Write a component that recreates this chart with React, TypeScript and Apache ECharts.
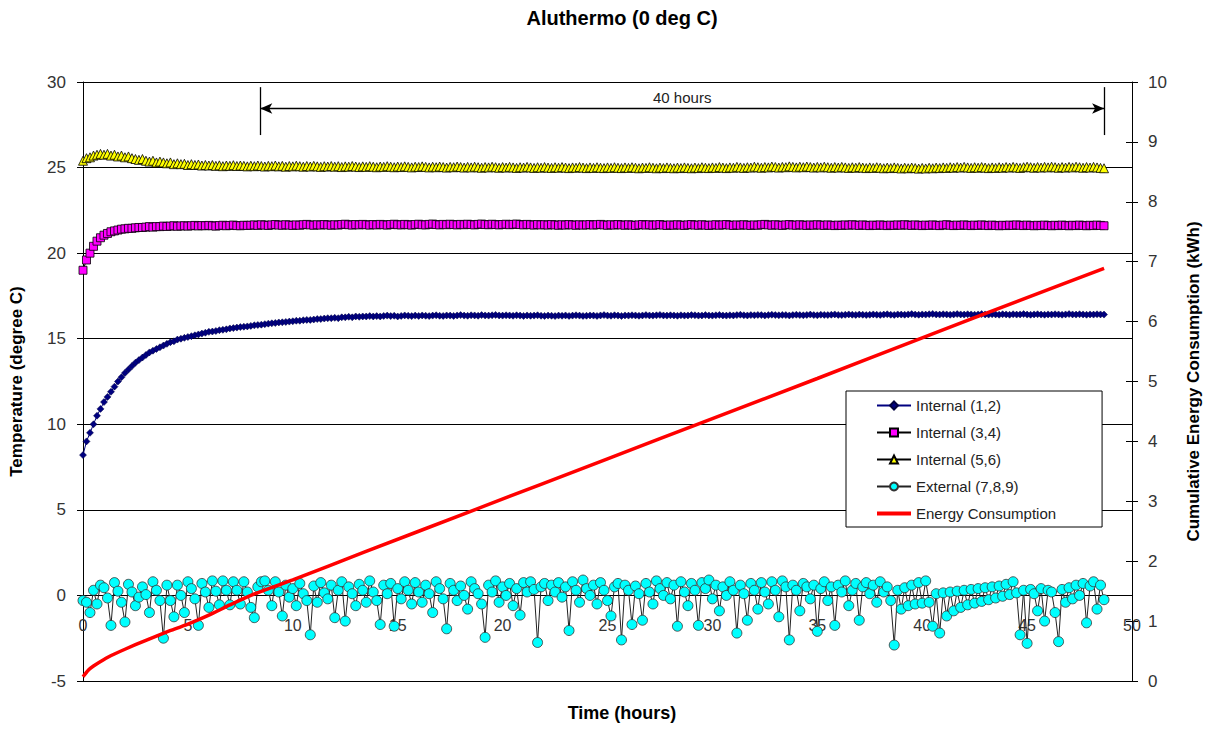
import React, { useEffect, useRef } from "react";
import * as echarts from "echarts";

const TITLE = "Aluthermo (0 deg C)";
const X_NAME = "Time (hours)";
const Y_LEFT_NAME = "Temperature (degree C)";
const Y_RIGHT_NAME = "Cumulative Energy Consumption (kWh)";
const SPAN_LABEL = "40 hours";
const SPAN_START_H = 8.45;
const SPAN_END_H = 48.67;

const NAMES = ["Internal (1,2)", "Internal (3,4)", "Internal (5,6)", "External (7,8,9)", "Energy Consumption"];

// readings every 10 minutes
const TIME_STEP_H = 1 / 6;

const INTERNAL_12 = [
  8.2, 9.0, 9.5, 10.0, 10.5, 10.9, 11.3, 11.6, 11.9, 12.2, 12.5, 12.75,
  13.0, 13.2, 13.4, 13.6, 13.75, 13.9, 14.05, 14.2, 14.3, 14.4, 14.5, 14.6,
  14.7, 14.8, 14.85, 14.95, 15.0, 15.05, 15.1, 15.15, 15.2, 15.25, 15.3, 15.35,
  15.4, 15.42, 15.45, 15.5, 15.52, 15.55, 15.6, 15.62, 15.65, 15.68, 15.7, 15.72,
  15.75, 15.78, 15.8, 15.82, 15.85, 15.88, 15.9, 15.92, 15.95, 15.96, 15.98, 16.0,
  16.02, 16.05, 16.05, 16.08, 16.1, 16.1, 16.12, 16.15, 16.15, 16.18, 16.2, 16.2,
  16.22, 16.2, 16.25, 16.25, 16.28, 16.25, 16.3, 16.28, 16.3, 16.3, 16.32, 16.3,
  16.32, 16.3, 16.33, 16.35, 16.32, 16.34, 16.3, 16.33, 16.36, 16.34, 16.32, 16.35,
  16.33, 16.36, 16.34, 16.32, 16.35, 16.37, 16.34, 16.33, 16.36, 16.35, 16.33, 16.36,
  16.38, 16.35, 16.34, 16.37, 16.36, 16.34, 16.38, 16.36, 16.35, 16.37, 16.39, 16.36,
  16.35, 16.37, 16.36, 16.34, 16.37, 16.35, 16.33, 16.36, 16.34, 16.35, 16.37, 16.34,
  16.33, 16.35, 16.34, 16.32, 16.35, 16.34, 16.36, 16.33, 16.35, 16.37, 16.35, 16.33,
  16.34, 16.36, 16.35, 16.33, 16.36, 16.38, 16.35, 16.34, 16.37, 16.35, 16.33, 16.36,
  16.35, 16.37, 16.36, 16.34, 16.36, 16.38, 16.36, 16.35, 16.37, 16.39, 16.36, 16.35,
  16.37, 16.36, 16.34, 16.37, 16.35, 16.36, 16.38, 16.37, 16.35, 16.36, 16.38, 16.36,
  16.35, 16.37, 16.39, 16.36, 16.35, 16.37, 16.36, 16.38, 16.4, 16.37, 16.36, 16.38,
  16.37, 16.39, 16.38, 16.36, 16.38, 16.4, 16.38, 16.37, 16.39, 16.38, 16.36, 16.38,
  16.4, 16.38, 16.37, 16.39, 16.41, 16.38, 16.37, 16.4, 16.39, 16.38, 16.4, 16.42,
  16.39, 16.38, 16.4, 16.42, 16.4, 16.39, 16.41, 16.4, 16.38, 16.4, 16.42, 16.4,
  16.39, 16.41, 16.43, 16.4, 16.39, 16.42, 16.41, 16.4, 16.42, 16.44, 16.41, 16.4,
  16.42, 16.41, 16.43, 16.45, 16.42, 16.41, 16.43, 16.42, 16.4, 16.42, 16.44, 16.42,
  16.41, 16.43, 16.42, 16.4, 16.42, 16.44, 16.42, 16.41, 16.43, 16.42, 16.4, 16.43,
  16.42, 16.4, 16.43, 16.41, 16.42, 16.44, 16.41, 16.4, 16.42, 16.43, 16.41, 16.4,
  16.42, 16.41, 16.43, 16.42, 16.4, 16.42, 16.44, 16.42, 16.41, 16.43, 16.42, 16.4,
  16.42, 16.41, 16.43, 16.42, 16.41,
];

const INTERNAL_34 = [
  19.0, 19.6, 20.0, 20.4, 20.7, 20.9, 21.05, 21.15, 21.25, 21.3, 21.35, 21.4,
  21.42, 21.45, 21.45, 21.48, 21.5, 21.5, 21.52, 21.55, 21.52, 21.55, 21.55, 21.58,
  21.56, 21.58, 21.6, 21.57, 21.59, 21.6, 21.58, 21.6, 21.62, 21.59, 21.61, 21.6,
  21.62, 21.6, 21.58, 21.61, 21.63, 21.6, 21.62, 21.64, 21.61, 21.6, 21.63, 21.62,
  21.63, 21.65, 21.62, 21.66, 21.64, 21.62, 21.65, 21.67, 21.64, 21.63, 21.66, 21.64,
  21.62, 21.65, 21.63, 21.66, 21.68, 21.65, 21.63, 21.66, 21.64, 21.67, 21.65, 21.63,
  21.66, 21.64, 21.67, 21.69, 21.66, 21.64, 21.67, 21.65, 21.68, 21.66, 21.64, 21.67,
  21.65, 21.68, 21.66, 21.64, 21.67, 21.69, 21.66, 21.65, 21.68, 21.66, 21.64, 21.67,
  21.69, 21.66, 21.65, 21.68, 21.7, 21.67, 21.65, 21.68, 21.66, 21.69, 21.67, 21.65,
  21.68, 21.66, 21.69, 21.67, 21.65, 21.68, 21.7, 21.67, 21.66, 21.69, 21.67, 21.65,
  21.67, 21.69, 21.66, 21.68, 21.7, 21.67, 21.65, 21.68, 21.66, 21.64, 21.67, 21.65,
  21.66, 21.64, 21.67, 21.65, 21.63, 21.66, 21.64, 21.67, 21.65, 21.63, 21.66, 21.64,
  21.65, 21.67, 21.64, 21.66, 21.68, 21.65, 21.63, 21.66, 21.64, 21.67, 21.65, 21.63,
  21.66, 21.64, 21.62, 21.65, 21.67, 21.64, 21.66, 21.63, 21.65, 21.67, 21.64, 21.62,
  21.65, 21.63, 21.66, 21.64, 21.62, 21.65, 21.67, 21.64, 21.63, 21.66, 21.64, 21.62,
  21.64, 21.66, 21.63, 21.65, 21.67, 21.64, 21.62, 21.65, 21.63, 21.66, 21.64, 21.62,
  21.65, 21.63, 21.66, 21.68, 21.65, 21.63, 21.66, 21.64, 21.62, 21.65, 21.67, 21.64,
  21.63, 21.66, 21.64, 21.62, 21.65, 21.63, 21.66, 21.64, 21.62, 21.65, 21.63, 21.61,
  21.64, 21.62, 21.65, 21.63, 21.66, 21.64, 21.62, 21.65, 21.63, 21.61, 21.64, 21.62,
  21.65, 21.63, 21.61, 21.64, 21.62, 21.65, 21.63, 21.66, 21.64, 21.62, 21.65, 21.63,
  21.61, 21.64, 21.62, 21.65, 21.63, 21.61, 21.64, 21.66, 21.63, 21.61, 21.64, 21.62,
  21.65, 21.63, 21.61, 21.64, 21.62, 21.65, 21.63, 21.61, 21.64, 21.62, 21.6, 21.63,
  21.61, 21.64, 21.62, 21.65, 21.63, 21.61, 21.64, 21.62, 21.6, 21.63, 21.61, 21.64,
  21.62, 21.6, 21.63, 21.61, 21.64, 21.62, 21.6, 21.63, 21.61, 21.64, 21.62, 21.6,
  21.63, 21.61, 21.64, 21.62, 21.6,
];

const INTERNAL_56 = [
  25.4, 25.55, 25.6, 25.7, 25.75, 25.8, 25.75, 25.8, 25.7, 25.75, 25.65, 25.7,
  25.6, 25.65, 25.55, 25.5, 25.45, 25.5, 25.4, 25.35, 25.4, 25.3, 25.35, 25.3,
  25.25, 25.3, 25.2, 25.25, 25.2, 25.22, 25.15, 25.2, 25.15, 25.18, 25.12, 25.15,
  25.12, 25.15, 25.1, 25.13, 25.08, 25.12, 25.1, 25.14, 25.09, 25.12, 25.1, 25.07,
  25.11, 25.08, 25.12, 25.09, 25.06, 25.1, 25.08, 25.12, 25.07, 25.1, 25.05, 25.09,
  25.07, 25.11, 25.08, 25.05, 25.09, 25.06, 25.1, 25.07, 25.04, 25.08, 25.06, 25.09,
  25.05, 25.08, 25.03, 25.07, 25.05, 25.09, 25.06, 25.03, 25.07, 25.04, 25.08, 25.05,
  25.02, 25.06, 25.04, 25.08, 25.05, 25.02, 25.06, 25.03, 25.07, 25.04, 25.01, 25.05,
  25.03, 25.07, 25.04, 25.01, 25.05, 25.02, 25.06, 25.03, 25.0, 25.04, 25.02, 25.06,
  25.03, 25.0, 25.04, 25.01, 25.05, 25.02, 24.99, 25.03, 25.01, 25.05, 25.02, 24.99,
  25.03, 25.0, 25.04, 25.01, 24.98, 25.02, 25.0, 25.04, 25.01, 24.98, 25.02, 24.99,
  25.03, 25.0, 24.98, 25.02, 24.99, 25.03, 25.0, 24.97, 25.01, 24.99, 25.03, 25.0,
  24.97, 25.01, 24.98, 25.02, 24.99, 24.97, 25.01, 24.98, 25.02, 24.99, 24.97, 25.01,
  24.98, 25.02, 24.99, 24.96, 25.0, 24.98, 25.02, 24.99, 24.96, 25.0, 24.97, 25.01,
  24.98, 24.96, 25.0, 24.97, 25.01, 24.98, 24.96, 25.0, 24.97, 25.02, 24.99, 24.97,
  25.01, 24.98, 25.03, 25.0, 24.97, 25.01, 24.99, 25.04, 25.01, 24.98, 25.02, 25.0,
  25.05, 25.02, 24.99, 25.03, 25.01, 25.06, 25.03, 25.0, 25.04, 25.02, 25.07, 25.04,
  25.01, 25.05, 25.02, 25.06, 25.03, 25.0, 25.04, 25.01, 25.05, 25.02, 24.99, 25.03,
  25.0, 25.04, 25.01, 24.98, 25.02, 24.99, 25.03, 25.0, 24.97, 25.01, 24.98, 25.02,
  24.99, 24.96, 25.0, 24.97, 25.01, 24.98, 24.95, 24.99, 24.96, 25.0, 24.97, 24.94,
  24.98, 24.95, 24.99, 24.96, 25.0, 24.97, 25.01, 24.98, 25.02, 24.99, 25.03, 25.0,
  25.04, 25.01, 24.98, 25.02, 24.99, 25.03, 25.0, 24.97, 25.01, 24.98, 25.02, 24.99,
  25.03, 25.0, 25.04, 25.01, 24.98, 25.02, 25.05, 25.02, 24.99, 25.03, 25.0, 25.04,
  25.01, 25.05, 25.02, 24.99, 25.03, 25.0, 25.04, 25.01, 25.05, 25.02, 24.99, 25.03,
  25.0, 25.04, 25.01, 24.98, 24.96,
];

const EXTERNAL_789 = [
  -0.3, -0.4, -1.0, 0.3, -0.5, 0.6, 0.45, -0.15, -1.75, 0.75, 0.25, -0.4,
  -1.55, 0.65, 0.2, -0.6, -0.1, 0.5, 0.05, -1.0, 0.8, 0.3, -0.3, -2.5,
  0.6, -0.3, -1.25, 0.6, 0.0, -1.0, 0.8, 0.4, -0.2, -1.75, 0.7, 0.2,
  -0.7, 0.85, 0.25, -0.55, 0.85, 0.3, -0.55, 0.8, 0.3, -0.5, 0.8, 0.2,
  -0.7, -1.3, 0.5, 0.8, 0.85, 0.3, -0.6, 0.8, 0.2, -1.2, 0.6, -0.1,
  0.4, -0.6, 0.7, 0.1, -0.3, -2.3, 0.55, -0.4, 0.75, 0.15, -0.2, 0.6,
  -1.3, 0.3, 0.8, -1.5, 0.5, 0.1, -0.6, 0.65, 0.3, -0.4, 0.85, 0.2,
  -0.3, -1.7, 0.6, 0.1, 0.7, -1.8, 0.4, -0.2, 0.8, 0.3, -0.5, 0.75,
  0.2, -0.4, 0.6, 0.1, -1.0, 0.8, 0.4, -0.2, -1.95, 0.7, 0.3, -0.3,
  0.55, 0.0, -0.8, 0.8, 0.4, 0.1, -0.5, -2.45, 0.6, 0.2, 0.85, -0.4,
  0.5, 0.0, 0.7, -0.6, 0.4, -1.15, 0.75, 0.2, 0.8, 0.35, -2.75, 0.5,
  0.7, -0.3, 0.6, 0.2, 0.75, -0.1, 0.5, -2.05, 0.8, 0.3, -0.4, 0.9,
  0.4, 0.0, 0.6, -0.5, 0.75, 0.3, -0.3, -1.2, 0.5, 0.7, -2.6, 0.6,
  0.3, -1.7, 0.55, 0.1, -1.45, 0.7, 0.2, -0.5, 0.85, 0.4, 0.0, 0.75,
  -0.2, 0.6, -1.8, 0.8, 0.2, -0.6, 0.7, 0.3, -1.75, 0.75, 0.4, 0.9,
  -0.2, 0.6, -0.9, 0.5, 0.0, 0.8, 0.3, -2.2, 0.6, 0.1, -1.45, 0.7,
  0.3, -0.8, 0.75, 0.2, -0.5, 0.8, 0.3, -1.25, 0.85, 0.5, -2.6, 0.6,
  0.3, -0.9, 0.7, 0.5, -0.2, 0.6, -2.1, 0.4, 0.8, -0.3, 0.5, -1.75,
  0.6, 0.2, 0.85, -0.6, 0.3, 0.7, -1.45, 0.5, 0.75, 0.1, 0.6, -0.4,
  0.8, 0.2, 0.5, -0.3, -2.9, 0.3, -0.8, 0.45, -0.6, 0.6, -0.5, 0.75,
  -0.45, 0.85, -0.4, -1.8, 0.1, -2.2, 0.15, -1.2, 0.2, -0.9, 0.25, -0.7,
  0.3, -0.55, 0.35, -0.45, 0.4, -0.35, 0.45, -0.25, 0.5, -0.15, 0.55, -0.05,
  0.65, 0.05, 0.8, 0.15, -2.3, 0.3, -2.8, 0.35, 0.1, -0.9, 0.4, -1.5,
  0.3, 0.2, -1.0, -2.7, 0.35, -0.4, 0.45, -0.2, 0.6, 0.0, 0.7, -1.6,
  0.55, 0.8, -0.8, 0.6, -0.25,
];

const ENERGY_TIME_H = [0, 0.25, 0.5, 1, 1.5, 2, 3, 4, 5, 6, 7, 8, 10, 13.4, 18.6, 25, 30, 35, 40, 45, 48.67];
const ENERGY_KWH = [0.07, 0.18, 0.25, 0.36, 0.45, 0.53, 0.68, 0.82, 0.95, 1.1, 1.27, 1.43, 1.69, 2.15, 2.85, 3.71, 4.38, 5.05, 5.73, 6.4, 6.89];

const FONT = "'Liberation Sans', Arial, Helvetica, sans-serif";

const withTime = (vals: number[]) => vals.map((v, i) => [i * TIME_STEP_H, v]);

export default function App() {
  const ref = useRef<HTMLDivElement>(null);

  useEffect(() => {
    document.body.style.margin = "0";
    if (!ref.current) return;
    const chart = echarts.init(ref.current, undefined, { renderer: "svg" });

    const tempSeries = (name: string, vals: number[], symbol: string, size: number, fill: string) => ({
      name,
      type: "line",
      data: withTime(vals),
      xAxisIndex: 0,
      yAxisIndex: 0,
      symbol,
      symbolSize: size,
      showAllSymbol: true,
      clip: false,
      z: 3,
      lineStyle: { color: "#000", width: 1 },
      itemStyle: { color: fill, borderColor: "#000", borderWidth: 0.8 },
      emphasis: { disabled: true },
    });

    // grid: plot spans y 82..681 for -5..30; the x axis sits on the 0 line
    const gridTop = 82;
    const gridBottomPx = 681;
    const zeroPx = gridTop + ((30 - 0) / 35) * (gridBottomPx - gridTop);

    const option: any = {
      animation: false,
      backgroundColor: "#fff",
      textStyle: { fontFamily: FONT },
      grid: { left: 78, right: 83, top: gridTop, bottom: 731 - gridBottomPx, containLabel: false },
      legend: {
        orient: "vertical",
        left: 846,
        top: 391,
        padding: [7, 46, 6, 29],
        itemGap: 12,
        itemWidth: 34,
        itemHeight: 10,
        backgroundColor: "#fff",
        borderColor: "#000",
        borderWidth: 1,
        borderRadius: 0,
        textStyle: { fontSize: 15, color: "#222", fontFamily: FONT },
        data: [
          NAMES[0],
          NAMES[1],
          NAMES[2],
          NAMES[3],
          { name: NAMES[4], itemStyle: { opacity: 0 }, lineStyle: { width: 4, color: "#FF0000" } },
        ],
      },
      xAxis: {
        type: "value",
        position: "bottom",
        offset: -(gridBottomPx - zeroPx),
        min: 0,
        max: 50,
        interval: 5,
        axisLine: { show: true, onZero: false, lineStyle: { color: "#000", width: 1 } },
        axisTick: { show: false },
        axisLabel: { fontSize: 16, color: "#333", margin: 22, fontFamily: FONT },
        splitLine: { show: false },
      },
      yAxis: [
        {
          type: "value",
          position: "left",
          min: -5,
          max: 30,
          interval: 5,
          name: Y_LEFT_NAME,
          nameLocation: "middle",
          nameGap: 58,
          nameTextStyle: { fontSize: 17, fontWeight: "bold", color: "#000", fontFamily: FONT },
          axisLine: { show: true, onZero: false, lineStyle: { color: "#000", width: 1 } },
          axisTick: { show: true, length: 6, lineStyle: { color: "#000" } },
          axisLabel: { fontSize: 17, color: "#333", margin: 17, fontFamily: FONT },
          splitLine: { show: true, lineStyle: { color: "#000", width: 1 } },
        },
        {
          type: "value",
          position: "right",
          min: 0,
          max: 10,
          interval: 1,
          name: Y_RIGHT_NAME,
          nameLocation: "middle",
          nameGap: 53,
          nameTextStyle: { fontSize: 17, fontWeight: "bold", color: "#000", fontFamily: FONT },
          axisLine: { show: true, onZero: false, lineStyle: { color: "#000", width: 1 } },
          axisTick: { show: true, length: 6, lineStyle: { color: "#000" } },
          axisLabel: { fontSize: 17, color: "#333", margin: 16, fontFamily: FONT },
          splitLine: { show: false },
        },
        {
          type: "value",
          position: "right",
          min: 0,
          max: 10,
          interval: 1,
          axisLine: { show: false, onZero: false },
          axisTick: { show: true, inside: true, length: 6, lineStyle: { color: "#000" } },
          axisLabel: { show: false },
          splitLine: { show: false },
        },
      ],
      graphic: [
        {
          type: "text",
          x: 622,
          y: 18,
          style: { text: TITLE, font: `bold 20px ${FONT}`, fill: "#000", textAlign: "center", textVerticalAlign: "middle" },
        },
        {
          type: "text",
          x: 622,
          y: 713,
          style: { text: X_NAME, font: `bold 18px ${FONT}`, fill: "#000", textAlign: "center", textVerticalAlign: "middle" },
        },
      ],
      series: [
        {
          ...tempSeries(NAMES[0], INTERNAL_12, "diamond", 7, "#000080"),
          lineStyle: { color: "#000080", width: 1 },
          itemStyle: { color: "#000080", borderColor: "#000040", borderWidth: 0.5 },
          markLine: {
            silent: true,
            symbol: ["none", "none"],
            animation: false,
            lineStyle: { color: "#000", width: 1.3, type: "solid" },
            label: { show: false },
            emphasis: { disabled: true },
            data: [
              [
                {
                  coord: [SPAN_START_H, 28.45],
                  symbol: "arrow",
                  symbolSize: [8, 12],
                  label: { show: true, position: "middle", formatter: SPAN_LABEL, fontSize: 15, color: "#222", distance: 4, fontFamily: FONT },
                },
                { coord: [SPAN_END_H, 28.45], symbol: "arrow", symbolSize: [8, 12] },
              ],
              [{ coord: [SPAN_START_H, 29.7] }, { coord: [SPAN_START_H, 26.9] }],
              [{ coord: [SPAN_END_H, 29.7] }, { coord: [SPAN_END_H, 26.9] }],
            ],
          },
        },
        tempSeries(NAMES[1], INTERNAL_34, "rect", 8, "#FF00FF"),
        tempSeries(NAMES[2], INTERNAL_56, "triangle", 9, "#FFFF00"),
        {
          ...tempSeries(NAMES[3], EXTERNAL_789, "circle", 10, "#00FFFF"),
          lineStyle: { color: "#222", width: 1 },
          itemStyle: { color: "#00FFFF", borderColor: "#333", borderWidth: 0.8 },
        },
        {
          name: NAMES[4],
          type: "line",
          yAxisIndex: 1,
          data: ENERGY_TIME_H.map((t, i) => [t, ENERGY_KWH[i]]),
          symbol: "none",
          smooth: 0.2,
          z: 4,
          lineStyle: { color: "#FF0000", width: 3.5 },
          itemStyle: { color: "#FF0000" },
          emphasis: { disabled: true },
        },
      ],
    };

    chart.setOption(option);
    return () => chart.dispose();
  }, []);

  return <div ref={ref} style={{ width: 1215, height: 731 }} />;
}
